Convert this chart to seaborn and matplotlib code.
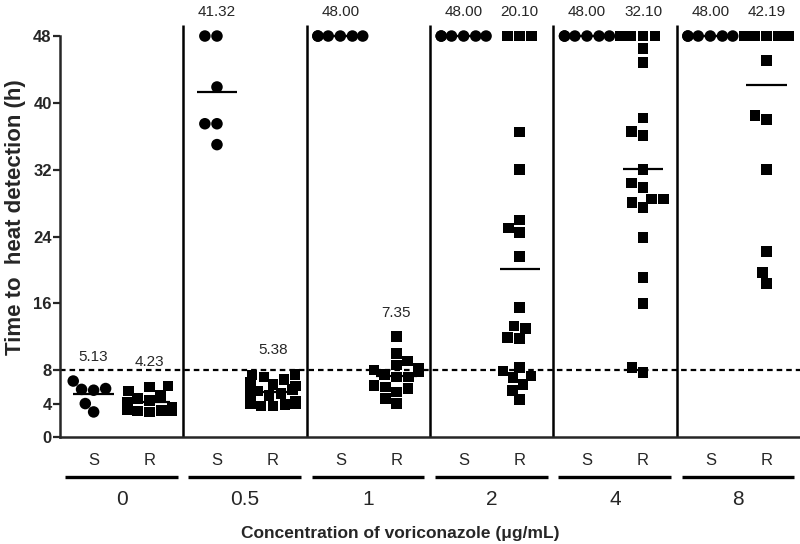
import warnings
import numpy as np
import pandas as pd
import matplotlib
matplotlib.use("Agg")
import matplotlib.pyplot as plt
import matplotlib.transforms as mtransforms
from matplotlib.markers import MarkerStyle
import seaborn as sns

warnings.filterwarnings("ignore")

# ── данные ──
conc_labels = ["0", "0.5", "1", "2", "4", "8"]

s_times = [
    [6.7, 5.8, 5.6, 5.7, 4.0, 3.0],
    [48, 48, 41.9, 37.5, 37.5, 35.0],
    [48, 48, 48, 48, 48, 48],
    [48, 48, 48, 48, 48, 48],
    [48, 48, 48, 48, 48, 48],
    [48, 48, 48, 48, 48, 48],
]

r_times = [
    [6.1, 6.0, 5.5, 5.0, 4.6, 4.4, 4.2, 4.0, 3.6, 3.2, 3.1, 3.2, 3.0, 3.3],
    [7.5, 7.4, 7.2, 6.9, 6.6, 6.3, 6.1, 5.9, 5.7, 5.5, 5.2, 5.0, 4.6, 4.3,
     4.1, 4.0, 3.7, 4.0, 3.9, 3.7],
    [12.0, 10.0, 9.1, 8.6, 8.2, 8.0, 7.8, 7.5, 7.2, 7.2, 6.2, 6.0, 5.8, 5.4,
     4.6, 4.0],
    [48, 48, 48, 36.5, 32.0, 26.0, 25.0, 24.5, 21.6, 15.5, 13.3, 13.0, 11.8,
     11.9, 8.3, 7.1, 7.9, 7.3, 6.3, 5.6, 4.5],
    [48, 48, 48, 48, 46.5, 44.8, 38.2, 36.6, 36.1, 32.0, 30.4, 29.9, 28.5,
     28.5, 28.1, 27.5, 23.9, 19.1, 16.0, 8.3, 7.7],
    [48] * 14 + [45.1, 38.5, 38.0, 32.0, 22.2, 19.7, 18.4],
]

s_mean_labels = ["5.13", "41.32", "48.00", "48.00", "48.00", "48.00"]
r_mean_labels = ["4.23", "5.38", "7.35", "20.10", "32.10", "42.19"]

cutoff = 8
y_ticks = [0, 4, 8, 16, 24, 32, 40, 48]

# ── таблица для seaborn ──
STEP = 2.2  # расстояние между группами концентраций
rows = []
for i, c in enumerate(conc_labels):
    for t in s_times[i]:
        rows.append({"conc": c, "strain": "S", "pos": i * STEP, "time": t})
    for t in r_times[i]:
        rows.append({"conc": c, "strain": "R", "pos": i * STEP + 1, "time": t})
df = pd.DataFrame(rows)

s_pos = np.arange(len(conc_labels)) * STEP
r_pos = s_pos + 1

sns.set_style("ticks")
plt.rcParams["font.family"] = ["Liberation Sans", "DejaVu Sans"]

fig = plt.figure(figsize=(8, 5.44), dpi=100)
ax = fig.add_axes([0.075, 0.1967, 0.925, 0.7601])

sns.swarmplot(data=df, x="pos", y="time", native_scale=True, color="black",
              size=8.3, linewidth=0, ax=ax, legend=False)

# квадратные маркеры для R (по каждой точке, по ближайшей позиции)
sq = MarkerStyle("s")
sq_path = sq.get_path().transformed(sq.get_transform().scale(0.92))
ci = MarkerStyle("o")
ci_path = ci.get_path().transformed(ci.get_transform())
for coll in ax.collections:
    off = np.asarray(coll.get_offsets())
    if len(off) == 0:
        continue
    paths = []
    for x in off[:, 0]:
        is_r = np.min(np.abs(r_pos - x)) < np.min(np.abs(s_pos - x))
        paths.append(sq_path if is_r else ci_path)
    coll.set_paths(paths)

# средние значения
s_means = [float(v) for v in s_mean_labels]
r_means = [float(v) for v in r_mean_labels]
ax.hlines(s_means, s_pos - 0.36, s_pos + 0.36, color="black", lw=1.6, zorder=3)
ax.hlines(r_means, r_pos - 0.36, r_pos + 0.36, color="black", lw=1.6, zorder=3)

for i in range(len(conc_labels)):
    ax.text(s_pos[i], max(s_times[i]) + 2.9, s_mean_labels[i], ha="center",
            va="center", fontsize=11, clip_on=False)
    ax.text(r_pos[i], max(r_times[i]) + 2.9, r_mean_labels[i], ha="center",
            va="center", fontsize=11, clip_on=False)

# пороговая линия и разделители
ax.axhline(cutoff, color="black", lw=1.6, ls=(0, (2.5, 1.8)), zorder=1)
dividers = s_pos[1:] - (STEP - 1) / 2
ax.vlines(dividers, 0, 49.3, color="black", lw=1.8, clip_on=False)

ax.set_xlim(-0.6, (len(conc_labels) - 1) * STEP + 1.6)
ax.set_ylim(0, 49.5)
ax.set_yticks(y_ticks)
ax.set_xticks([])
ax.set_xlabel("")
ax.set_ylabel("")
ax.spines["top"].set_visible(False)
ax.spines["right"].set_visible(False)
ax.spines["left"].set_bounds(0, 48)
ax.spines["left"].set_linewidth(1.8)
ax.spines["bottom"].set_linewidth(1.8)
ax.tick_params(axis="y", direction="out", length=5, width=1.6, pad=1)
for lab in ax.get_yticklabels():
    lab.set_fontweight("bold")
    lab.set_fontsize(12)

# подписи под осью
trans = mtransforms.blended_transform_factory(ax.transData, fig.transFigure)
for i, c in enumerate(conc_labels):
    ax.text(s_pos[i], 0.1526, "S", transform=trans, ha="center", va="center",
            fontsize=12)
    ax.text(r_pos[i], 0.1526, "R", transform=trans, ha="center", va="center",
            fontsize=12)
    ax.plot([s_pos[i] - 0.51, r_pos[i] + 0.5], [0.1232, 0.1232], transform=trans,
            color="black", lw=2.4, clip_on=False, solid_capstyle="butt")
    ax.text((s_pos[i] + r_pos[i]) / 2, 0.0809, c, transform=trans, ha="center",
            va="center", fontsize=15)

fig.text(0.5, 0.0202, "Concentration of voriconazole (\u03bcg/mL)", ha="center",
         va="center", fontsize=12.5, fontweight="bold")
fig.text(0.02, 0.6, "Time to  heat detection (h)", ha="center", va="center",
         rotation=90, fontsize=16, fontweight="bold")

fig.savefig("out.png", dpi=100)
